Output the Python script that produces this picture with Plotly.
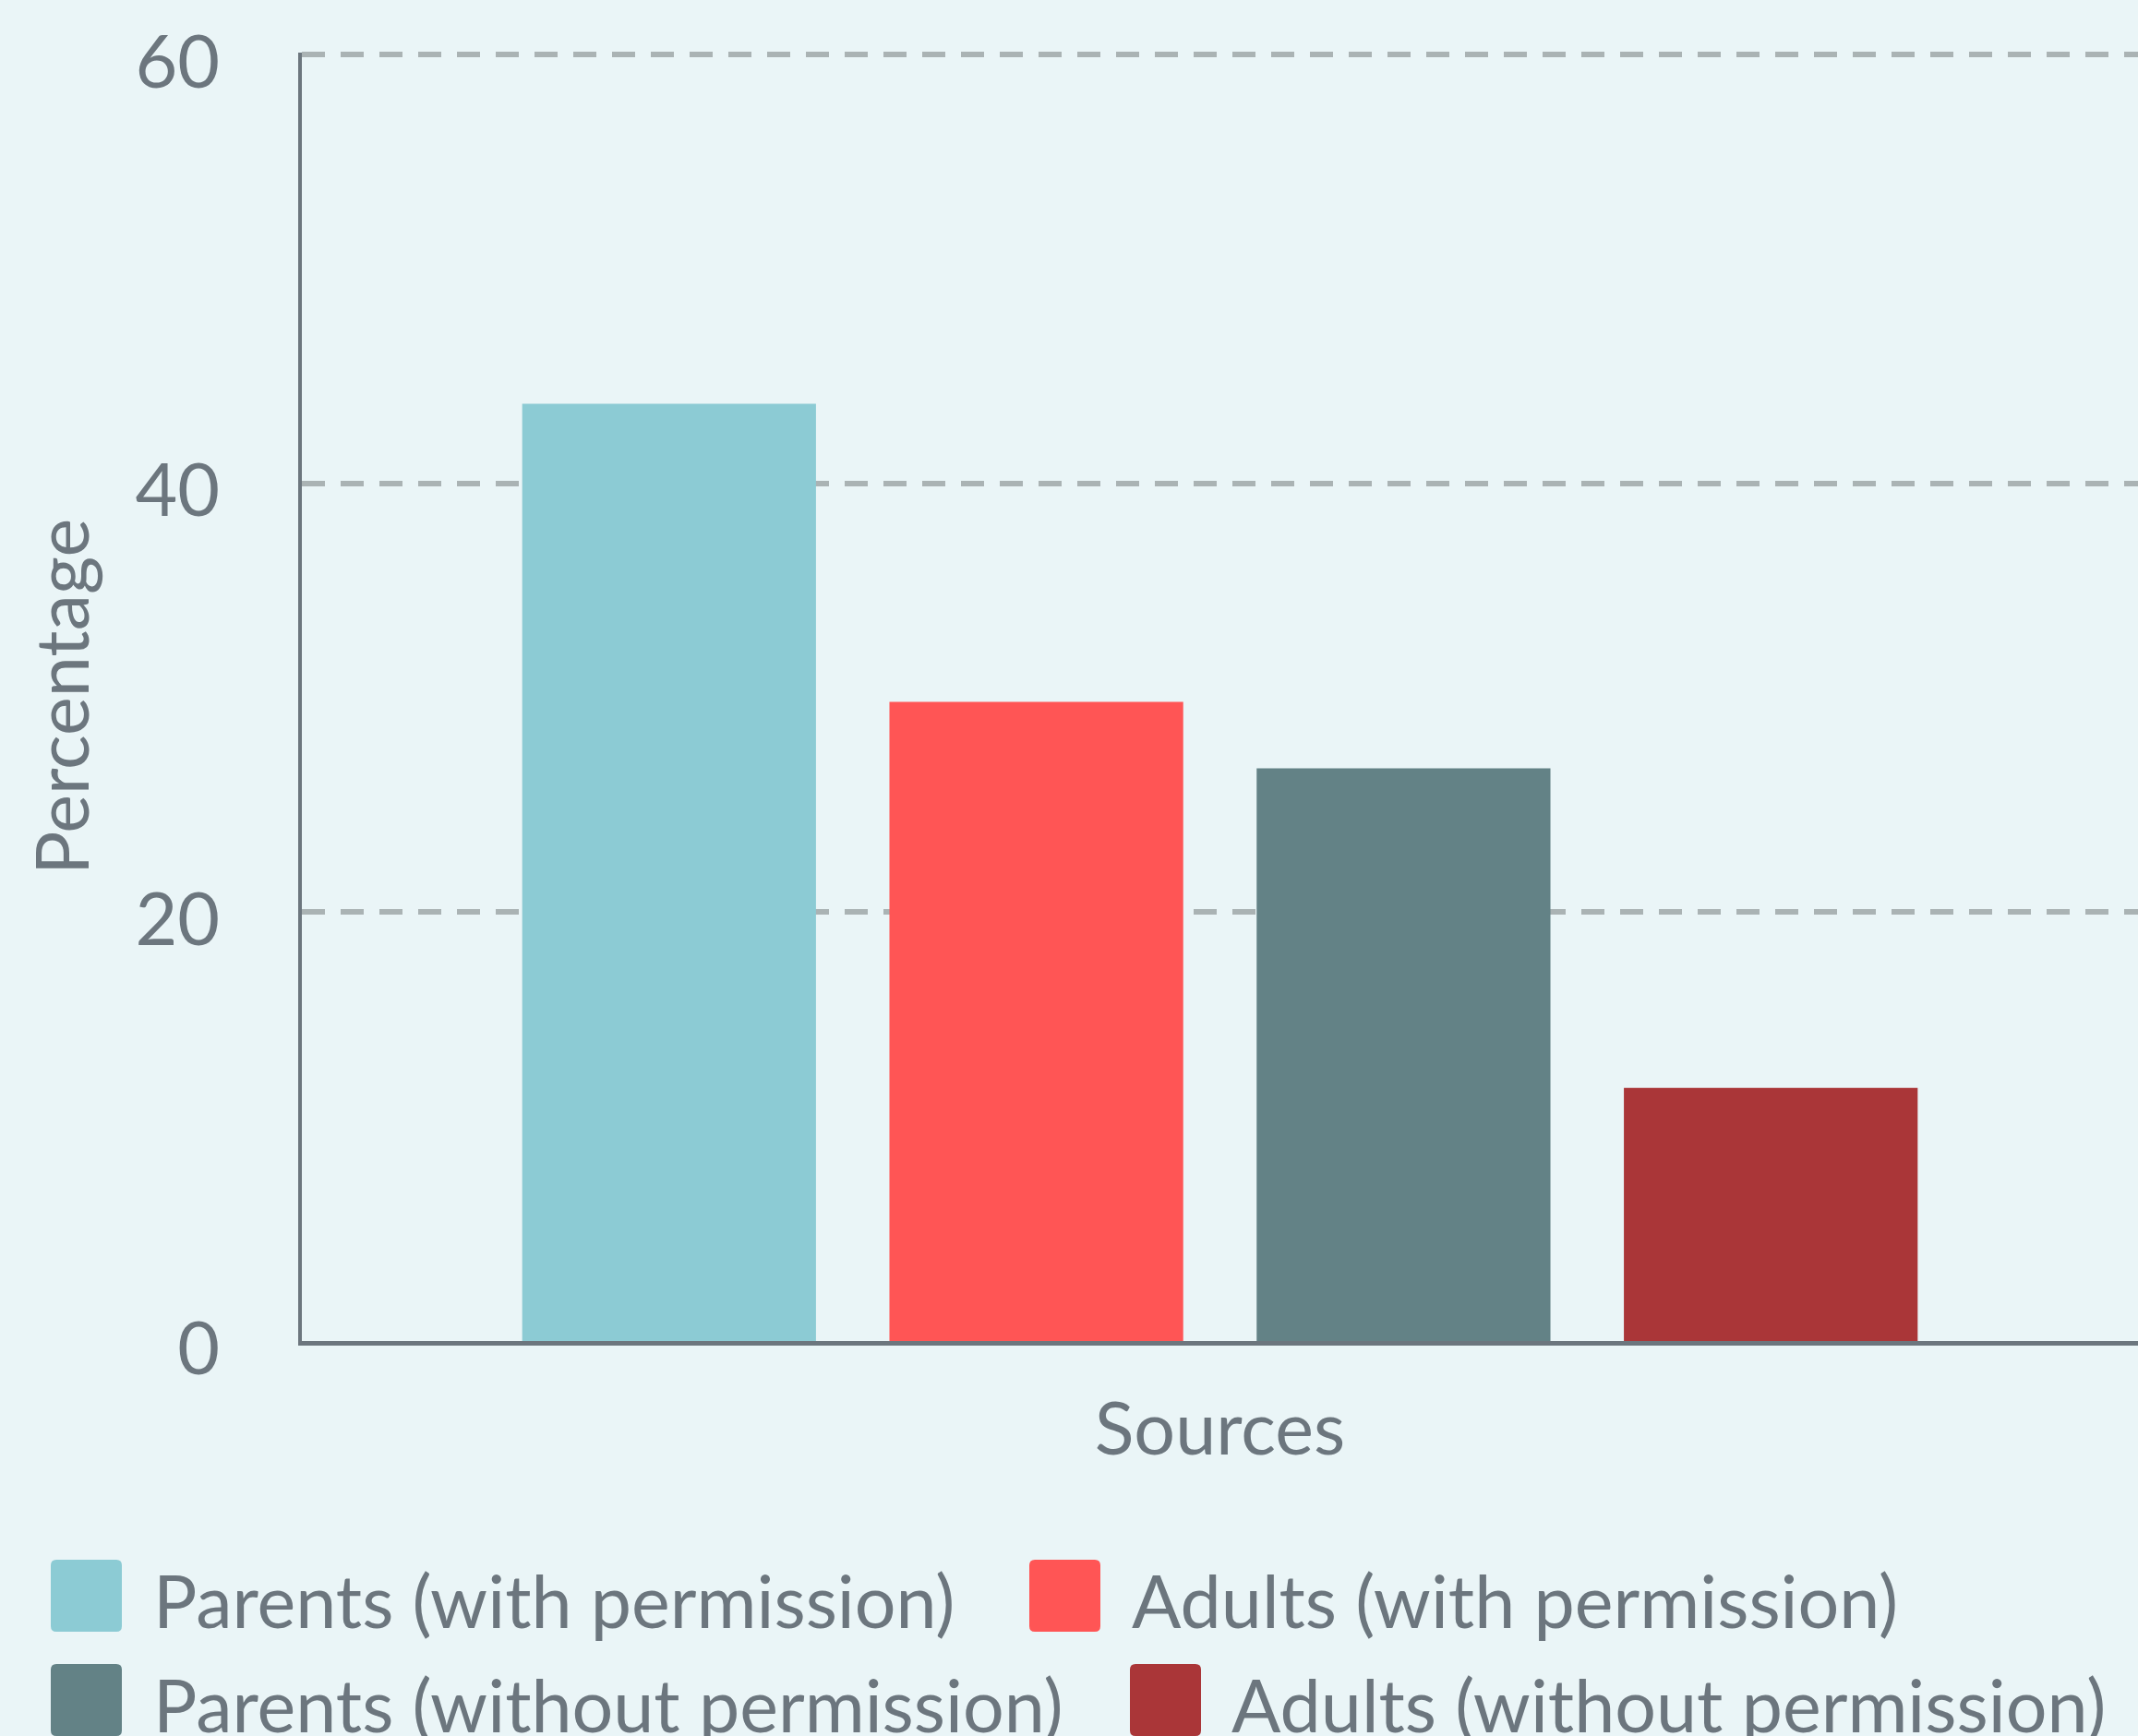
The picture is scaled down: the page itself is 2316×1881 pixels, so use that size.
import plotly.graph_objects as go

# ---------------- data ----------------
group = ["Sources"]
series_names = [
    "Parents (with permission)",
    "Adults (with permission)",
    "Parents (without permission)",
    "Adults (without permission)",
]
series_values = [43.7, 29.8, 26.7, 11.8]
series_colors = ["#8CCBD4", "#FF5555", "#638286", "#AA3638"]
y_ticks = [0, 20, 40, 60]

# ---------------- layout constants ----------------
W, H = 2316, 1881
PL, PR, PT, PB = 327, 2316, 57, 1453  # plot area in px
BG = "#EAF5F7"
TXT = "#6C767E"
FONT = "Lato"
FS = 79

def px_x(x):
    return (x - PL) / (PR - PL)

def px_y(y):
    return (PB - y) / (PB - PT)

fig = go.Figure()
for name, val, col in zip(series_names, series_values, series_colors):
    fig.add_trace(go.Bar(x=group, y=[val], name=name, marker=dict(color=col, line=dict(width=0)),
                         showlegend=False))

# ---------------- custom legend (large rounded swatches, flow layout) ----------------
# (box left px, box top px, text left px)
legend_pos = [
    (55, 1690, 164),
    (1115, 1690, 1224),
    (55, 1803, 164),
    (1224, 1803, 1332),
]
BOX = 77
RAD = 6
shapes = []
annotations = []
for (bx, by, tx), name, col in zip(legend_pos, series_names, series_colors):
    x0, x1, y0, y1 = bx, bx + BOX, by, by + 78
    rx = RAD / (PR - PL)
    ry = RAD / (PB - PT)
    X0, X1 = px_x(x0), px_x(x1)
    Y0, Y1 = px_y(y1), px_y(y0)  # Y0 bottom, Y1 top in paper
    path = (f"M{X0+rx},{Y1} L{X1-rx},{Y1} Q{X1},{Y1} {X1},{Y1-ry} "
            f"L{X1},{Y0+ry} Q{X1},{Y0} {X1-rx},{Y0} L{X0+rx},{Y0} "
            f"Q{X0},{Y0} {X0},{Y0+ry} L{X0},{Y1-ry} Q{X0},{Y1} {X0+rx},{Y1} Z")
    shapes.append(dict(type="path", xref="paper", yref="paper", path=path,
                       fillcolor=col, line=dict(width=0), layer="above"))
    annotations.append(dict(xref="paper", yref="paper", x=px_x(tx), y=px_y(by - 6),
                            xanchor="left", yanchor="top", showarrow=False, text=name,
                            font=dict(family=FONT, size=FS, color=TXT)))

fig.update_layout(
    width=W, height=H,
    margin=dict(l=PL, r=W - PR, t=PT, b=H - PB, autoexpand=False),
    paper_bgcolor=BG, plot_bgcolor=BG,
    barmode="group", bargap=0.2, bargroupgap=0.2,
    font=dict(family=FONT, size=FS, color=TXT),
    showlegend=False,
    shapes=shapes,
    annotations=annotations,
    xaxis=dict(
        showticklabels=False, ticks="", showgrid=False, zeroline=False,
        showline=True, linecolor="#6C767E", linewidth=5,
        title=dict(text="Sources", font=dict(family=FONT, size=FS, color=TXT), standoff=65),
    ),
    yaxis=dict(
        range=[0, 60.08], tickvals=y_ticks, ticktext=[str(v) for v in y_ticks],
        ticks="outside", ticklen=69, tickcolor="rgba(0,0,0,0)",
        ticklabelshift=8,
        tickfont=dict(family=FONT, size=FS, color=TXT),
        showgrid=True, gridcolor="#AAB3B4", gridwidth=6, griddash="25px,17px",
        zeroline=False, showline=True, linecolor="#6C767E", linewidth=4,
        title=dict(text="Percentage", font=dict(family=FONT, size=FS, color=TXT), standoff=25),
    ),
)

fig.write_html("out.html", config={"displayModeBar": False},
               post_script="document.body.style.margin='0';document.body.style.overflow='hidden';")
